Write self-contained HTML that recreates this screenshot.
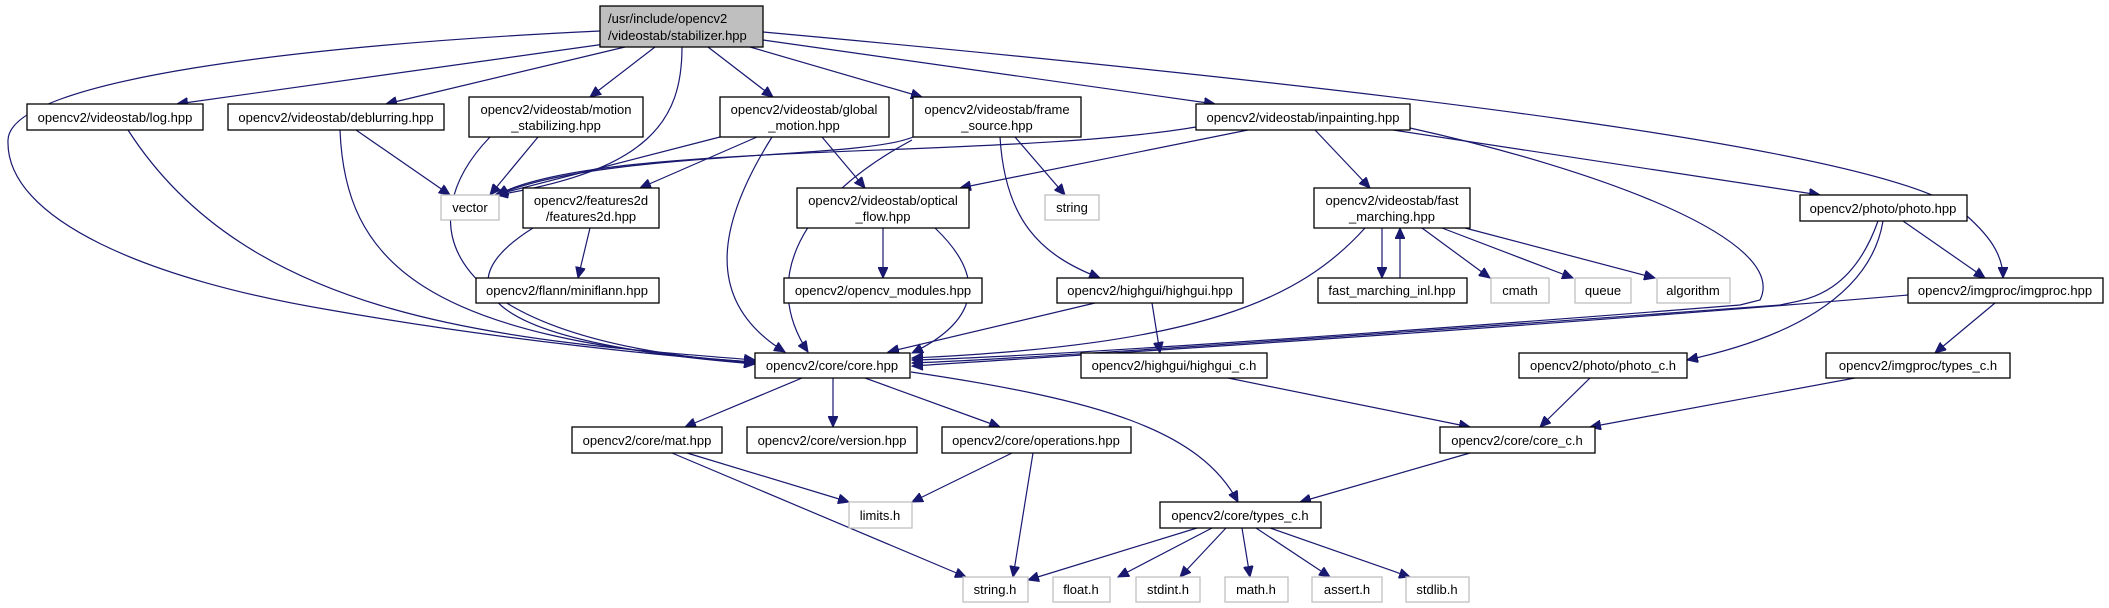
<!DOCTYPE html>
<html><head><meta charset="utf-8"><style>
html,body{margin:0;padding:0;background:#fff;}
svg{display:block;}
text{font-family:"Liberation Sans",sans-serif;font-size:13px;fill:#000;}
.n{fill:#fff;stroke:#000;stroke-width:1.3;}
.g{fill:#fff;stroke:#bfbfbf;stroke-width:1.3;}
.e{fill:none;stroke:#191970;stroke-width:1.2;marker-end:url(#a);}
</style></head><body>
<svg width="2109" height="608" viewBox="0 0 2109 608" xmlns="http://www.w3.org/2000/svg">
<defs><marker id="a" markerUnits="userSpaceOnUse" markerWidth="12" markerHeight="10" refX="11" refY="5" orient="auto"><path d="M0,0 L11,5 L0,10 z" fill="#191970" stroke="#191970"/></marker></defs>
<g>
<path class="e" d="M600,31 C300,45 10,80 8,140 C5,220 150,280 330,310 C500,340 680,358 755,362"/>
<path class="e" d="M605,44 L177,104"/>
<path class="e" d="M625,47 L386,104"/>
<path class="e" d="M655,47 L590,97"/>
<path class="e" d="M682,47 C682,120 650,170 497,195"/>
<path class="e" d="M708,47 L773,97"/>
<path class="e" d="M750,47 L922,97"/>
<path class="e" d="M763,40 L1215,104"/>
<path class="e" d="M763,32 C1400,90 1880,150 1960,210 C1990,235 2003,255 2003,278"/>
<path class="e" d="M128,130 C250,320 500,340 755,360"/>
<path class="e" d="M340,130 C345,260 420,340 755,362"/>
<path class="e" d="M356,130 L450,195"/>
<path class="e" d="M538,137 L490,195"/>
<path class="e" d="M490,137 C410,220 430,340 755,363"/>
<path class="e" d="M720,137 L495,195"/>
<path class="e" d="M757,137 L640,188"/>
<path class="e" d="M772,137 C720,220 700,300 785,352"/>
<path class="e" d="M822,137 L865,188"/>
<path class="e" d="M913,137 C860,160 600,150 497,195"/>
<path class="e" d="M912,140 C800,200 760,280 808,352"/>
<path class="e" d="M1015,137 L1065,195"/>
<path class="e" d="M1000,137 C1005,220 1040,255 1100,278"/>
<path class="e" d="M1196,127 C1000,160 600,140 497,195"/>
<path class="e" d="M1248,130 L960,188"/>
<path class="e" d="M1315,130 L1370,188"/>
<path class="e" d="M1393,130 L1820,195"/>
<path class="e" d="M1410,128 C1600,170 1790,240 1760,300 L1740,305 C1300,340 1000,358 912,360"/>
<path class="e" d="M590,228 L578,278"/>
<path class="e" d="M533,228 C450,280 460,340 755,364"/>
<path class="e" d="M883,228 L883,278"/>
<path class="e" d="M935,228 C1000,290 960,330 912,353"/>
<path class="e" d="M1365,228 C1300,300 1200,345 912,358"/>
<path class="e" d="M1382,228 L1382,278"/>
<path class="e" d="M1400,278 L1400,228"/>
<path class="e" d="M1422,228 L1490,278"/>
<path class="e" d="M1442,228 L1573,278"/>
<path class="e" d="M1465,228 L1655,278"/>
<path class="e" d="M1095,303 L888,352"/>
<path class="e" d="M1152,303 L1160,353"/>
<path class="e" d="M1878,221 C1850,300 1800,300 1780,305 C1300,340 1000,360 912,363"/>
<path class="e" d="M1883,221 C1870,300 1780,340 1687,360"/>
<path class="e" d="M1903,221 L1985,278"/>
<path class="e" d="M1908,295 C1500,330 1000,360 912,366"/>
<path class="e" d="M1995,303 L1935,353"/>
<path class="e" d="M802,378 L685,427"/>
<path class="e" d="M833,378 L833,427"/>
<path class="e" d="M865,378 L1000,427"/>
<path class="e" d="M911,372 C1100,400 1200,430 1238,502"/>
<path class="e" d="M1228,378 L1470,427"/>
<path class="e" d="M1590,378 L1540,427"/>
<path class="e" d="M1855,378 L1590,427"/>
<path class="e" d="M1470,453 L1300,502"/>
<path class="e" d="M687,453 L849,502"/>
<path class="e" d="M672,453 L966,577"/>
<path class="e" d="M1012,453 L912,502"/>
<path class="e" d="M1033,453 L1013,577"/>
<path class="e" d="M1197,528 L1028,580"/>
<path class="e" d="M1212,528 L1118,577"/>
<path class="e" d="M1226,528 L1180,577"/>
<path class="e" d="M1242,528 L1250,577"/>
<path class="e" d="M1256,528 L1330,577"/>
<path class="e" d="M1270,528 L1410,577"/>
</g>
<g>
<rect x="600" y="6" width="163" height="41" fill="#bfbfbf" stroke="#000" stroke-width="1.3"/>
<text x="608" y="23">/usr/include/opencv2</text><text x="608" y="40">/videostab/stabilizer.hpp</text>

<rect class="n" x="27" y="104" width="176" height="26"/><text x="115" y="122" text-anchor="middle">opencv2/videostab/log.hpp</text>
<rect class="n" x="228" y="104" width="216" height="26"/><text x="336" y="122" text-anchor="middle">opencv2/videostab/deblurring.hpp</text>
<rect class="n" x="469" y="97" width="174" height="40"/><text x="556" y="114" text-anchor="middle">opencv2/videostab/motion</text><text x="556" y="130" text-anchor="middle">_stabilizing.hpp</text>
<rect class="n" x="720" y="97" width="169" height="40"/><text x="804" y="114" text-anchor="middle">opencv2/videostab/global</text><text x="804" y="130" text-anchor="middle">_motion.hpp</text>
<rect class="n" x="913" y="97" width="168" height="40"/><text x="997" y="114" text-anchor="middle">opencv2/videostab/frame</text><text x="997" y="130" text-anchor="middle">_source.hpp</text>
<rect class="n" x="1196" y="104" width="214" height="26"/><text x="1303" y="122" text-anchor="middle">opencv2/videostab/inpainting.hpp</text>

<rect class="g" x="441" y="195" width="58" height="25"/><text x="470" y="212" text-anchor="middle">vector</text>
<rect class="n" x="523" y="188" width="136" height="40"/><text x="591" y="205" text-anchor="middle">opencv2/features2d</text><text x="591" y="221" text-anchor="middle">/features2d.hpp</text>
<rect class="n" x="797" y="188" width="172" height="40"/><text x="883" y="205" text-anchor="middle">opencv2/videostab/optical</text><text x="883" y="221" text-anchor="middle">_flow.hpp</text>
<rect class="g" x="1045" y="195" width="54" height="25"/><text x="1072" y="212" text-anchor="middle">string</text>
<rect class="n" x="1314" y="188" width="156" height="40"/><text x="1392" y="205" text-anchor="middle">opencv2/videostab/fast</text><text x="1392" y="221" text-anchor="middle">_marching.hpp</text>
<rect class="n" x="1800" y="195" width="167" height="26"/><text x="1883" y="213" text-anchor="middle">opencv2/photo/photo.hpp</text>

<rect class="n" x="476" y="278" width="183" height="25"/><text x="567" y="295" text-anchor="middle">opencv2/flann/miniflann.hpp</text>
<rect class="n" x="784" y="278" width="198" height="25"/><text x="883" y="295" text-anchor="middle">opencv2/opencv_modules.hpp</text>
<rect class="n" x="1057" y="278" width="186" height="25"/><text x="1150" y="295" text-anchor="middle">opencv2/highgui/highgui.hpp</text>
<rect class="n" x="1318" y="278" width="149" height="25"/><text x="1392" y="295" text-anchor="middle">fast_marching_inl.hpp</text>
<rect class="g" x="1491" y="278" width="58" height="25"/><text x="1520" y="295" text-anchor="middle">cmath</text>
<rect class="g" x="1575" y="278" width="56" height="25"/><text x="1603" y="295" text-anchor="middle">queue</text>
<rect class="g" x="1657" y="278" width="73" height="25"/><text x="1693" y="295" text-anchor="middle">algorithm</text>
<rect class="n" x="1908" y="278" width="195" height="25"/><text x="2005" y="295" text-anchor="middle">opencv2/imgproc/imgproc.hpp</text>

<rect class="n" x="755" y="353" width="155" height="25"/><text x="832" y="370" text-anchor="middle">opencv2/core/core.hpp</text>
<rect class="n" x="1081" y="353" width="186" height="25"/><text x="1174" y="370" text-anchor="middle">opencv2/highgui/highgui_c.h</text>
<rect class="n" x="1519" y="353" width="168" height="25"/><text x="1603" y="370" text-anchor="middle">opencv2/photo/photo_c.h</text>
<rect class="n" x="1826" y="353" width="184" height="25"/><text x="1918" y="370" text-anchor="middle">opencv2/imgproc/types_c.h</text>

<rect class="n" x="572" y="427" width="150" height="26"/><text x="647" y="445" text-anchor="middle">opencv2/core/mat.hpp</text>
<rect class="n" x="747" y="427" width="170" height="26"/><text x="832" y="445" text-anchor="middle">opencv2/core/version.hpp</text>
<rect class="n" x="942" y="427" width="189" height="26"/><text x="1036" y="445" text-anchor="middle">opencv2/core/operations.hpp</text>
<rect class="n" x="1440" y="427" width="155" height="26"/><text x="1517" y="445" text-anchor="middle">opencv2/core/core_c.h</text>

<rect class="g" x="849" y="502" width="63" height="26"/><text x="880" y="520" text-anchor="middle">limits.h</text>
<rect class="n" x="1160" y="502" width="161" height="26"/><text x="1240" y="520" text-anchor="middle">opencv2/core/types_c.h</text>

<rect class="g" x="963" y="577" width="65" height="25"/><text x="995" y="594" text-anchor="middle">string.h</text>
<rect class="g" x="1053" y="577" width="57" height="25"/><text x="1081" y="594" text-anchor="middle">float.h</text>
<rect class="g" x="1136" y="577" width="64" height="25"/><text x="1168" y="594" text-anchor="middle">stdint.h</text>
<rect class="g" x="1225" y="577" width="63" height="25"/><text x="1256" y="594" text-anchor="middle">math.h</text>
<rect class="g" x="1312" y="577" width="70" height="25"/><text x="1347" y="594" text-anchor="middle">assert.h</text>
<rect class="g" x="1406" y="577" width="63" height="25"/><text x="1437" y="594" text-anchor="middle">stdlib.h</text>
</g>
</svg>
</body></html>
